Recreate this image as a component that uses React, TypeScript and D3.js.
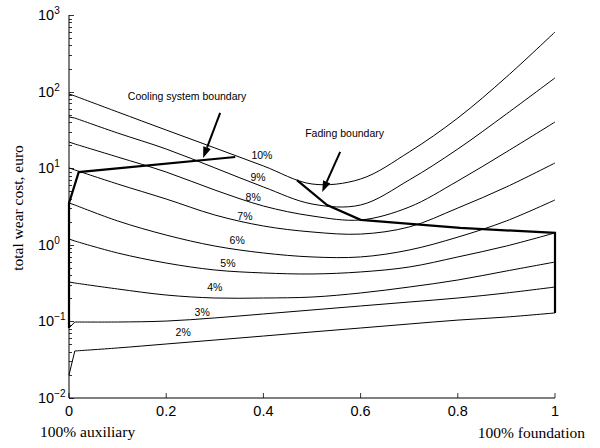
import React, { useEffect, useRef } from "react";
import * as d3 from "d3";

// share of foundation brake (x axis), common grid for all curves
const xGrid = [0, 0.012, 0.1, 0.2, 0.3, 0.4, 0.5, 0.6, 0.7, 0.8, 0.9, 1];

const curveLabels = ["10%", "9%", "8%", "7%", "6%", "5%", "4%", "3%", "2%"];

// total wear cost (euro) for each gradient
const cost10 = [93.1, 87.7, 54.2, 31.5, 18.4, 10.7, 6.22, 7.23, 16.3, 45.2, 155, 600];
const cost9 = [46.6, 45.2, 28.8, 17.8, 10.1, 5.69, 3.41, 3.31, 7.02, 17.8, 51.0, 151];
const cost8 = [22.0, 20.7, 14.0, 8.91, 5.19, 3.21, 2.38, 2.11, 3.11, 6.81, 16.3, 40.1];
const cost7 = [10.1, 9.48, 6.22, 3.96, 2.45, 1.76, 1.47, 1.38, 1.71, 3.02, 5.69, 11.7];
const cost6 = [3.51, 3.31, 2.05, 1.34, 0.964, 0.782, 0.694, 0.694, 0.855, 1.26, 2.05, 3.85];
const cost5 = [1.19, 1.12, 0.782, 0.578, 0.469, 0.429, 0.416, 0.442, 0.513, 0.694, 0.964, 1.43];
const cost4 = [0.327, 0.317, 0.265, 0.221, 0.202, 0.202, 0.208, 0.235, 0.281, 0.347, 0.455, 0.596];
const cost3 = [0.082, 0.0982, 0.0982, 0.101, 0.111, 0.125, 0.141, 0.159, 0.179, 0.202, 0.235, 0.281];
const cost2 = [0.02, 0.0411, 0.045, 0.0507, 0.0571, 0.0644, 0.0728, 0.082, 0.0925, 0.104, 0.114, 0.129];

// where the percentage labels sit
const labelX = [0.397, 0.389, 0.379, 0.362, 0.346, 0.327, 0.3, 0.274, 0.235];
const labelCost = [14.9, 7.67, 4.2, 2.38, 1.16, 0.578, 0.281, 0.133, 0.0728];

// boundaries
const coolingX = [0, 0, 0.02, 0.342];
const coolingCost = [0.082, 3.5, 8.9, 14.0];
const fadingX = [0.469, 0.531, 0.6, 0.805, 1, 1];
const fadingCost = [7.0, 3.3, 2.12, 1.66, 1.43, 0.129];

const xTicks = [0, 0.2, 0.4, 0.6, 0.8, 1];
const xTickLabels = ["0", "0.2", "0.4", "0.6", "0.8", "1"];
const yExponents = [-2, -1, 0, 1, 2, 3];

const sans = "'Liberation Sans', Arial, Helvetica, sans-serif";
const serif = "'Liberation Serif', 'Times New Roman', Times, serif";

const App = () => {
  const svgRef = useRef<SVGSVGElement>(null);

  useEffect(() => {
    const svg = d3.select(svgRef.current);
    svg.selectAll("*").remove();

    const x = d3.scaleLinear().domain([0, 1]).range([69, 555]);
    const y = d3.scaleLog().domain([0.01, 1000]).range([398, 15]);

    const series = [cost10, cost9, cost8, cost7, cost6, cost5, cost4, cost3, cost2];

    // first step (the short hook at x=0) is straight, the rest is smoothed
    const hook = d3.line<[number, number]>();
    const smooth = d3.line<[number, number]>().curve(d3.curveCatmullRom.alpha(0.5));
    const pathFor = (vals: number[]) => {
      const pts = vals.map((v, i) => [x(xGrid[i]), y(v)] as [number, number]);
      return (hook(pts.slice(0, 2)) || "") + (smooth(pts.slice(1)) || "");
    };

    // curves
    svg
      .append("g")
      .selectAll("path")
      .data(series)
      .enter()
      .append("path")
      .attr("d", (d) => pathFor(d))
      .attr("fill", "none")
      .attr("stroke", "#000")
      .attr("stroke-width", 1);

    // curve labels
    svg
      .append("g")
      .selectAll("text")
      .data(curveLabels)
      .enter()
      .append("text")
      .attr("x", (_, i) => x(labelX[i]))
      .attr("y", (_, i) => y(labelCost[i]))
      .attr("dy", "0.35em")
      .attr("text-anchor", "middle")
      .style("font-family", sans)
      .style("font-size", "10.5px")
      .text((d) => d);

    // thick boundaries
    svg
      .append("path")
      .attr("d", d3.line()(coolingX.map((v, i) => [x(v), y(coolingCost[i])])))
      .attr("fill", "none")
      .attr("stroke", "#000")
      .attr("stroke-width", 2.2);
    svg
      .append("path")
      .attr("d", d3.line()(fadingX.map((v, i) => [x(v), y(fadingCost[i])])))
      .attr("fill", "none")
      .attr("stroke", "#000")
      .attr("stroke-width", 2.2);

    // axes
    svg
      .append("line")
      .attr("x1", x(0)).attr("x2", x(0))
      .attr("y1", y(1000)).attr("y2", y(0.01))
      .attr("stroke", "#000");
    svg
      .append("line")
      .attr("x1", x(0)).attr("x2", x(1))
      .attr("y1", y(0.01)).attr("y2", y(0.01))
      .attr("stroke", "#000");

    // y ticks (major + minor), pointing inward
    svg
      .append("g")
      .selectAll("line")
      .data(y.ticks())
      .enter()
      .append("line")
      .attr("x1", x(0))
      .attr("x2", (d) => (Math.abs(Math.log10(d) - Math.round(Math.log10(d))) < 1e-6 ? x(0) + 5 : x(0) + 3))
      .attr("y1", (d) => Math.round(y(d)) + 0.5)
      .attr("y2", (d) => Math.round(y(d)) + 0.5)
      .attr("stroke", "#000")
      .attr("stroke-width", 0.8);

    const yLab = svg
      .append("g")
      .selectAll("text")
      .data(yExponents)
      .enter()
      .append("text")
      .attr("x", 38)
      .attr("y", (d) => y(Math.pow(10, d)))
      .attr("dy", "0.35em")
      .style("font-family", sans)
      .style("font-size", "14.5px");
    yLab.append("tspan").text("10");
    yLab
      .append("tspan")
      .attr("dy", -6)
      .style("font-size", "10px")
      .text((d) => (d < 0 ? "\u2212" + Math.abs(d) : String(d)));

    // x ticks
    svg
      .append("g")
      .selectAll("line")
      .data(xTicks)
      .enter()
      .append("line")
      .attr("x1", (d) => x(d))
      .attr("x2", (d) => x(d))
      .attr("y1", y(0.01))
      .attr("y2", y(0.01) - 5)
      .attr("stroke", "#000")
      .attr("stroke-width", 0.8);
    svg
      .append("g")
      .selectAll("text")
      .data(xTickLabels)
      .enter()
      .append("text")
      .attr("x", (_, i) => x(xTicks[i]))
      .attr("y", y(0.01) + 13)
      .attr("dy", "0.35em")
      .attr("text-anchor", "middle")
      .style("font-family", sans)
      .style("font-size", "14.5px")
      .text((d) => d);

    // axis titles
    svg
      .append("text")
      .attr("transform", "translate(18,208) rotate(-90)")
      .attr("text-anchor", "middle")
      .attr("dy", "0.35em")
      .style("font-family", serif)
      .style("font-size", "15.5px")
      .text("total wear cost, euro");
    svg
      .append("text")
      .attr("x", 40)
      .attr("y", 432)
      .attr("dy", "0.35em")
      .style("font-family", serif)
      .style("font-size", "15.5px")
      .text("100% auxiliary");
    svg
      .append("text")
      .attr("x", 585)
      .attr("y", 433)
      .attr("dy", "0.35em")
      .attr("text-anchor", "end")
      .style("font-family", serif)
      .style("font-size", "15.5px")
      .text("100% foundation");

    // annotations with arrows
    const arrow = (x0: number, c0: number, x1: number, c1: number) => {
      const p0 = [x(x0), y(c0)];
      const p1 = [x(x1), y(c1)];
      const dx = p1[0] - p0[0];
      const dy = p1[1] - p0[1];
      const len = Math.hypot(dx, dy);
      const ux = dx / len;
      const uy = dy / len;
      const headL = 11;
      const headW = 4;
      const bx = p1[0] - ux * headL;
      const by = p1[1] - uy * headL;
      svg
        .append("line")
        .attr("x1", p0[0]).attr("y1", p0[1])
        .attr("x2", bx).attr("y2", by)
        .attr("stroke", "#000")
        .attr("stroke-width", 2);
      svg
        .append("polygon")
        .attr(
          "points",
          [
            [p1[0], p1[1]],
            [bx - uy * headW, by + ux * headW],
            [bx + uy * headW, by - ux * headW],
          ].join(" ")
        )
        .attr("fill", "#000");
    };

    svg
      .append("text")
      .attr("x", x(0.121))
      .attr("y", y(87.7))
      .attr("dy", "0.35em")
      .style("font-family", sans)
      .style("font-size", "10.5px")
      .text("Cooling system boundary");
    arrow(0.311, 52.6, 0.276, 13.6);

    svg
      .append("text")
      .attr("x", x(0.486))
      .attr("y", y(28.8))
      .attr("dy", "0.35em")
      .style("font-family", sans)
      .style("font-size", "10.5px")
      .text("Fading boundary");
    arrow(0.558, 16.3, 0.521, 4.89);
  }, []);

  return (
    <svg
      ref={svgRef}
      width={600}
      height={448}
      style={{ position: "absolute", left: 0, top: 0, background: "#fff" }}
    ></svg>
  );
};

export default App;
